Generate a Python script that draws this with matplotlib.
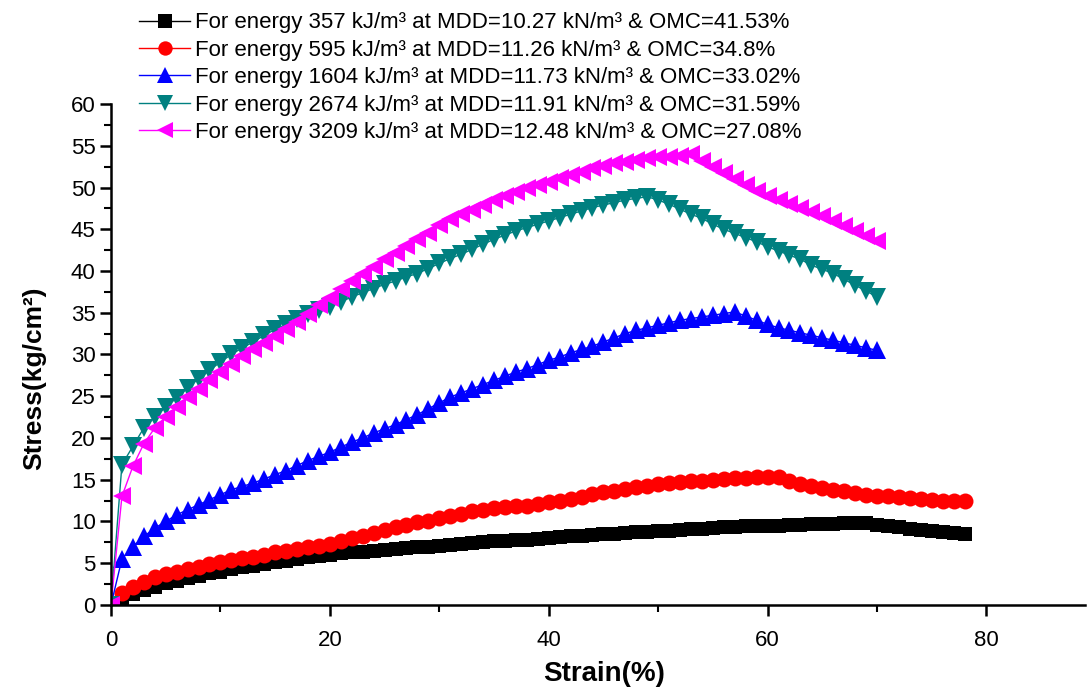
import matplotlib
matplotlib.use("Agg")
import matplotlib.pyplot as plt
from matplotlib.ticker import MultipleLocator

plt.rcParams['font.family'] = ['Liberation Sans', 'DejaVu Sans']

# Strain (%) sampled at every 1 %
strain_long = list(range(0, 79))   # energies 357 and 595
strain_short = list(range(0, 71))  # energies 1604, 2674, 3209

stress_357 = [0, 0.8, 1.3, 1.8, 2.2, 2.6, 2.9, 3.2, 3.5, 3.8,
              4.0, 4.3, 4.5, 4.7, 4.9, 5.1, 5.3, 5.5, 5.7, 5.9,
              6.0, 6.2, 6.3, 6.4, 6.5, 6.6, 6.7, 6.8, 6.9, 7.0,
              7.1, 7.2, 7.3, 7.4, 7.5, 7.6, 7.7, 7.8, 7.8, 7.9,
              8.0, 8.1, 8.2, 8.3, 8.4, 8.5, 8.5, 8.6, 8.7, 8.7,
              8.8, 8.9, 9.0, 9.1, 9.1, 9.2, 9.3, 9.3, 9.4, 9.4,
              9.5, 9.5, 9.6, 9.6, 9.7, 9.7, 9.7, 9.8, 9.8, 9.8,
              9.6, 9.4, 9.3, 9.1, 9.0, 8.9, 8.7, 8.6, 8.5]

stress_595 = [0, 1.4, 2.2, 2.8, 3.3, 3.7, 4.0, 4.3, 4.6, 4.9,
              5.1, 5.4, 5.6, 5.8, 6.0, 6.3, 6.5, 6.7, 6.9, 7.1,
              7.3, 7.6, 8.0, 8.3, 8.6, 9.0, 9.3, 9.6, 9.9, 10.1,
              10.4, 10.7, 10.9, 11.2, 11.4, 11.6, 11.7, 11.8, 11.9, 12.1,
              12.3, 12.5, 12.7, 12.9, 13.3, 13.5, 13.7, 13.9, 14.1, 14.3,
              14.5, 14.6, 14.7, 14.8, 14.9, 15.0, 15.1, 15.2, 15.2, 15.3,
              15.3, 15.3, 14.9, 14.5, 14.2, 14.0, 13.8, 13.6, 13.4, 13.2,
              13.1, 13.0, 12.9, 12.8, 12.7, 12.6, 12.5, 12.5, 12.4]

stress_1604 = [0, 5.5, 7.0, 8.2, 9.2, 10.0, 10.8, 11.4, 12.0, 12.6,
               13.2, 13.8, 14.2, 14.6, 15.1, 15.6, 16.1, 16.7, 17.3, 17.8,
               18.3, 18.9, 19.5, 20.0, 20.6, 21.1, 21.6, 22.2, 22.8, 23.5,
               24.2, 24.9, 25.4, 25.9, 26.4, 26.9, 27.4, 27.9, 28.3, 28.8,
               29.3, 29.7, 30.2, 30.6, 31.0, 31.5, 32.0, 32.5, 32.9, 33.2,
               33.5, 33.8, 34.1, 34.3, 34.5, 34.7, 34.9, 35.1, 34.6, 34.1,
               33.6, 33.2, 32.9, 32.6, 32.3, 32.0, 31.7, 31.4, 31.1, 30.8,
               30.5]

stress_2674 = [0, 16.8, 19.0, 21.2, 22.5, 23.7, 24.8, 26.0, 27.1, 28.1,
               29.1, 30.0, 30.8, 31.5, 32.3, 33.0, 33.6, 34.3, 34.8, 35.3,
               35.7, 36.3, 36.9, 37.4, 37.9, 38.4, 38.8, 39.3, 39.7, 40.3,
               40.9, 41.5, 42.0, 42.6, 43.2, 43.8, 44.3, 44.8, 45.2, 45.6,
               46.0, 46.4, 46.8, 47.2, 47.6, 47.9, 48.2, 48.5, 48.7, 48.9,
               48.5, 48.0, 47.4, 46.8, 46.3, 45.6, 45.0, 44.5, 44.0, 43.5,
               42.9, 42.4, 41.9, 41.4, 40.7, 40.2, 39.7, 39.0, 38.3, 37.6,
               36.9]

stress_3209 = [0, 13.0, 16.6, 19.3, 21.2, 22.5, 23.7, 24.9, 25.9, 26.9,
               27.9, 28.9, 29.8, 30.6, 31.4, 32.2, 33.0, 33.9, 34.9, 35.9,
               36.8, 37.8, 38.8, 39.6, 40.5, 41.4, 42.2, 43.0, 43.8, 44.5,
               45.5, 46.2, 46.8, 47.3, 47.9, 48.5, 49.0, 49.5, 49.9, 50.3,
               50.7, 51.1, 51.5, 51.9, 52.3, 52.6, 52.9, 53.1, 53.3, 53.5,
               53.6, 53.7, 53.8, 54.0, 53.2, 52.4, 51.7, 51.0, 50.3, 49.6,
               49.0, 48.5, 48.0, 47.5, 47.1, 46.6, 46.0, 45.4, 44.8, 44.2,
               43.6]

labels = [
    "For energy 357 kJ/m\u00b3 at MDD=10.27 kN/m\u00b3 & OMC=41.53%",
    "For energy 595 kJ/m\u00b3 at MDD=11.26 kN/m\u00b3 & OMC=34.8%",
    "For energy 1604 kJ/m\u00b3 at MDD=11.73 kN/m\u00b3 & OMC=33.02%",
    "For energy 2674 kJ/m\u00b3 at MDD=11.91 kN/m\u00b3 & OMC=31.59%",
    "For energy 3209 kJ/m\u00b3 at MDD=12.48 kN/m\u00b3 & OMC=27.08%",
]

series = [
    (strain_long, stress_357, "black", "s", 10.5),
    (strain_long, stress_595, "#ff0000", "o", 11.5),
    (strain_short, stress_1604, "#0000ff", "^", 13),
    (strain_short, stress_2674, "#008080", "v", 13),
    (strain_short, stress_3209, "#ff00ff", "<", 13),
]

fig = plt.figure(figsize=(10.87, 6.89), dpi=100)
ax = fig.add_axes([0.1021, 0.122, 0.896, 0.727])

handles = []
for (x, y, c, m, ms), lab in zip(series, labels):
    h, = ax.plot(x, y, color=c, marker=m, markersize=ms, linewidth=1.0,
                 markeredgewidth=0, label=lab)
    handles.append(h)

ax.set_xlim(0, 89)
ax.set_ylim(0, 60)
ax.xaxis.set_major_locator(MultipleLocator(20))
ax.xaxis.set_minor_locator(MultipleLocator(10))
ax.yaxis.set_major_locator(MultipleLocator(5))
ax.yaxis.set_minor_locator(MultipleLocator(2.5))

for side in ("top", "right"):
    ax.spines[side].set_visible(False)
for side in ("left", "bottom"):
    ax.spines[side].set_linewidth(1.8)

ax.tick_params(which="major", direction="out", length=8, width=1.8,
               labelsize=16, pad=3)
ax.tick_params(which="minor", direction="out", length=5, width=1.5)
ax.tick_params(axis="x", pad=10)

ax.set_xlabel("Strain(%)", fontsize=20, fontweight="bold")
ax.set_ylabel("Stress(kg/cm\u00b2)", fontsize=19, fontweight="bold")
ax.xaxis.set_label_coords(0.506, -0.112)
ax.yaxis.set_label_coords(-0.066, 0.453)

fig.legend(handles=handles, loc="upper left",
           bbox_to_anchor=(0.120, 0.995), frameon=False,
           fontsize=16, handlelength=2.3, handletextpad=0.2,
           labelspacing=0.29, borderaxespad=0, markerscale=0.9)

fig.savefig("out.png", dpi=100)
